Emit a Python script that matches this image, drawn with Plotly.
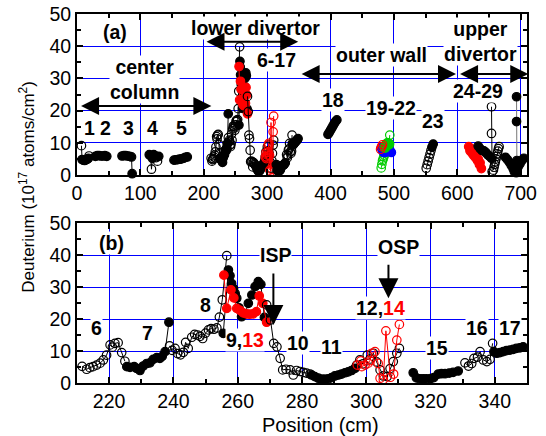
import plotly.graph_objects as go

# ---------------- data (x: position cm, y: 1e17 D atoms/cm^2) ----------------
# center column, segments 1-5
s1_x = [7, 8, 10, 12, 14, 16, 18, 19]
s1_y = [9.1, 4.8, 4.6, 4.5, 4.7, 4.9, 5.2, 5.9]
s1_open = [1, 0, 0, 0, 0, 0, 0, 1]
s2_x = [29, 32, 35, 38, 41, 44, 47]
s2_y = [5.8, 6.0, 6.0, 5.9, 5.9, 6.0, 5.8]
s3_x = [71, 74, 77, 80, 83, 86, 87]
s3_y = [5.9, 6.0, 6.0, 5.9, 5.8, 5.6, 0.4]
s4_x = [114, 116, 117.5, 119, 121, 123, 125, 127, 129]
s4_y = [6.3, 6.0, 1.8, 5.2, 6.3, 6.0, 5.4, 4.3, 5.8]
s4_open = [0, 0, 1, 0, 0, 0, 1, 1, 0]
s5_x = [153, 156, 159, 162, 165, 168, 171, 174]
s5_y = [4.6, 4.7, 4.8, 4.9, 5.0, 5.2, 5.5, 5.6]

# lower divertor, tiles 6-17
t6_x = [211.6, 213, 214, 215, 216.1, 217.2, 218.2, 219.2, 220.3, 221, 221.8, 222.8, 223.9, 224.9]
t6_y = [5.2, 4.3, 4.8, 5.1, 5.6, 6.2, 7.2, 8.7, 11.9, 11.2, 12.4, 12.6, 9.5, 6.8]
t7_x = [225.5, 226.5, 227.8, 228.5, 229.6, 230.6, 231.7, 232.7, 233.7, 234.8, 235.8, 236.5, 237.4, 238.6]
t7_y = [5.1, 4.9, 5.1, 4.6, 3.9, 5.3, 6.1, 6.3, 7.4, 7.9, 7.7, 8.3, 9.8, 19.0]
t8o_x = [238.8, 239.6, 240.5, 241.3, 242.2, 243.1, 243.8, 244.6, 245.7, 246.6, 247.5, 248.3, 249.1,
         250.0, 250.9, 251.7, 252.6, 253.5, 254.3, 255.2, 256.6]
t8o_y = [11.6, 10.2, 10.8, 9.2, 8.8, 9.6, 12.7, 10.8, 14.3, 15.2, 15.0, 14.6, 13.9,
         15.6, 16.6, 17.0, 16.8, 17.2, 20.6, 26.0, 39.8]
t9_x = [255.5, 257.1, 257.6, 258.1, 258.7, 259.2, 259.7, 260.4, 261.2, 262.3, 263.3, 264.4, 265.4,
        266.4, 267.2, 268.3]
t9_y = [15.5, 35.3, 33.5, 31.1, 29.5, 28.0, 26.5, 23.5, 20.7, 21.6, 24.9, 27.5, 30.1,
        31.7, 30.8, 20.5]
t13_x = [255.7, 256.6, 257.9, 258.8, 259.7, 260.7, 261.7, 262.7, 263.7, 264.8, 265.8, 266.7, 267.8, 269.0]
t13_y = [33.7, 23.3, 29.1, 26.6, 23.3, 22.7, 21.9, 21.6, 21.5, 21.6, 22.3, 27.2, 24.9, 19.0]
t10_x = [269.0, 270.2, 271.2, 272.2, 273.2, 274.0, 275.0, 276.3, 277.3, 278.3, 279.4, 280.4, 281.4, 282.5]
t10_y = [24.4, 19.7, 12.4, 11.3, 7.7, 4.1, 4.3, 4.1, 2.5, 3.9, 3.6, 3.3, 3.1, 2.8]
t11_x = [283, 284, 285.1, 286.1, 287.1, 288.2, 289.2, 290.2, 291.3, 292.3, 293.4, 294.4, 295.4, 296.5]
t11_y = [2.5, 2.0, 1.5, 1.2, 1.2, 1.3, 1.7, 2.2, 2.5, 2.8, 3.2, 3.5, 3.9, 4.6]
t12_x = [297, 298, 299, 300.3, 301.2, 302.2, 303.2, 304.3, 305.3, 306.5, 307.4, 308.4, 309.5, 310.3]
t12_y = [5.6, 7.2, 6.0, 8.7, 7.5, 9.3, 6.6, 4.1, 2.2, 2.0, 4.5, 6.7, 9.3, 10.8]
t14_x = [297.2, 298.3, 298.6, 299.6, 300.6, 301.1, 301.7, 302.7, 303.7, 304.3, 305.3, 306.1, 307.5,
         308.5, 309.5, 310.3]
t14_y = [5.6, 6.9, 5.1, 5.6, 6.2, 7.0, 9.3, 9.8, 6.1, 1.5, 1.1, 16.3, 1.8, 2.8, 13.4, 18.3]
t15_x = [314.6, 315.6, 316.7, 317.7, 318.7, 320.0, 321.0, 322.4, 323.4, 324.5, 325.8, 327.0, 328.6]
t15_y = [3.2, 1.6, 1.3, 1.3, 1.3, 1.4, 1.7, 2.8, 2.9, 2.9, 3.1, 3.3, 3.75]
t16_x = [330.7, 331.8, 332.8, 333.5, 334.6, 335.4, 336.4, 337.5, 338.5, 339.3]
t16_y = [6.3, 5.3, 6.1, 7.7, 8.1, 9.8, 7.2, 6.7, 7.4, 12.4]
t17_x = [339.7, 340.6, 341.6, 342.6, 343.6, 344.7, 345.7, 346.7, 347.8, 348.8]
t17_y = [9.8, 9.3, 9.5, 9.8, 10.1, 10.3, 10.5, 10.8, 11.0, 11.3]

# outer wall
w18_x = [396, 398, 400, 402, 404, 406, 408, 410]
w18_y = [12.6, 13.2, 13.9, 14.6, 15.3, 16.0, 16.6, 17.1]
w_green_open_x = [480, 481, 482, 483, 484, 485, 486, 487, 488, 489, 490, 492, 493.5]
w_green_open_y = [2.2, 3.3, 4.4, 5.0, 5.6, 6.2, 6.9, 7.5, 8.1, 8.6, 9.0, 9.5, 12.4]
w_green_x = [486, 488, 490, 492]
w_green_y = [8.6, 9.3, 9.8, 9.6]
w_blue_x = [480, 482, 484, 486, 488, 490, 492, 494, 496]
w_blue_y = [8.5, 7.5, 7.0, 7.0, 7.2, 7.5, 7.8, 7.5, 7.0]
w_red_open_x = [479, 480.5, 482]
w_red_open_y = [8.0, 8.8, 9.4]
w23_x = [551, 552.5, 554, 555.5, 557, 558.5, 560, 562]
w23_y = [2.1, 3.2, 4.3, 5.4, 6.5, 7.6, 8.6, 9.6]
w23_open = [1, 1, 1, 1, 1, 1, 0, 0]

# upper divertor, tiles 24-29
u_red_x = [618, 620, 621, 623, 624, 626, 627, 629, 630, 632, 633, 635, 636, 638]
u_red_y = [8.8, 7.5, 8.3, 6.8, 7.6, 6.0, 6.9, 5.3, 6.2, 4.4, 5.0, 3.2, 3.8, 2.0]
u_b1_x = [633, 636, 639, 642, 645, 648, 651, 654]
u_b1_y = [9.0, 8.2, 7.6, 7.5, 7.0, 6.3, 5.8, 5.2]
u_tall_x = [654, 654, 655]
u_tall_y = [21.2, 12.9, 1.0]
u_open_x = [657, 658, 659, 660, 661, 662, 663, 664, 665, 666]
u_open_y = [1.5, 2.4, 3.3, 4.1, 5.0, 5.8, 6.6, 7.4, 8.2, 8.8]
u_b2_x = [676, 679, 682, 685, 688, 690, 693, 696, 699, 702, 705]
u_b2_y = [5.5, 4.8, 4.0, 3.0, 2.0, 1.0, 0.7, 2.5, 3.5, 4.5, 5.2]
u_tallb_x = [693.5, 693.5, 694]
u_tallb_y = [24.3, 16.6, 4.5]

# ---------------- figure ----------------
FONT = "Arial, Liberation Sans, sans-serif"
BLACK, RED, BLUE, GREEN = "#000000", "#ff0000", "#0000ff", "#00cc00"
fig = go.Figure()


def add(x, y, color="#000000", open_flags=None, allopen=False, panel_b=False, size=8.5, lcolor=None):
    if open_flags is None:
        open_flags = [1 if allopen else 0] * len(x)
    symbols = ["circle-open" if o else "circle" for o in open_flags]
    axes = [("x", "y")]
    if panel_b:
        axes.append(("x2", "y2"))
    for xa, ya in axes:
        fig.add_trace(go.Scatter(
            x=x, y=y, mode="lines+markers", xaxis=xa, yaxis=ya,
            line=dict(color=lcolor or color, width=1),
            marker=dict(symbol=symbols, size=size, color=color, line=dict(color=color, width=1.2)),
            cliponaxis=False, showlegend=False, hoverinfo="skip"))


add(s1_x, s1_y, open_flags=s1_open)
add(s2_x, s2_y)
add(s3_x, s3_y)
add(s4_x, s4_y, open_flags=s4_open)
add(s5_x, s5_y)

add(t6_x, t6_y, allopen=True, panel_b=True)
add(t7_x, t7_y, panel_b=True)
add(t8o_x, t8o_y, allopen=True, panel_b=True)
add(t9_x, t9_y, panel_b=True)
add(t13_x, t13_y, color=RED, panel_b=True)
add(t10_x, t10_y, allopen=True, panel_b=True)
add(t11_x, t11_y, panel_b=True)
add(t12_x, t12_y, allopen=True, panel_b=True)
add(t14_x, t14_y, color=RED, allopen=True, panel_b=True)
add(t15_x, t15_y, panel_b=True)
add(t16_x, t16_y, allopen=True, panel_b=True)
add(t17_x, t17_y, panel_b=True)

add(w18_x, w18_y)
add(w_green_open_x, w_green_open_y, color=GREEN, allopen=True)
add(w_blue_x, w_blue_y, color=BLUE)
add(w_green_x, w_green_y, color=GREEN, size=10)
add(w_red_open_x, w_red_open_y, color=RED, allopen=True)
add(w23_x, w23_y, open_flags=w23_open)

add(u_red_x, u_red_y, color=RED)
add(u_b1_x, u_b1_y)
add(u_tall_x, u_tall_y, allopen=True)
add(u_open_x, u_open_y, allopen=True)
add(u_b2_x, u_b2_y)
add(u_tallb_x, u_tallb_y, lcolor="#777777")

# ---------------- axes ----------------
axis_common = dict(
    showline=True, linecolor="black", linewidth=2, mirror="ticks",
    ticks="inside", ticklen=6, tickwidth=1.5, tickcolor="black",
    showgrid=True, gridcolor=BLUE, gridwidth=1, zeroline=False, automargin=False,
    ticklabeloverflow="allow",
    tickfont=dict(family=FONT, size=19.5, color="black"),
)
fig.update_layout(
    width=546, height=436,
    margin=dict(l=77, r=19, t=14, b=53, autoexpand=False),
    plot_bgcolor="white", paper_bgcolor="white",
    xaxis=dict(axis_common, range=[0, 710], tick0=0, dtick=100, anchor="y",
               minor=dict(dtick=50, ticks="inside", ticklen=4, tickcolor="black", showgrid=False)),
    yaxis=dict(axis_common, range=[0, 50], tick0=0, dtick=10, domain=[0.5637, 1], anchor="x",
               minor=dict(dtick=5, ticks="inside", ticklen=4, tickcolor="black", showgrid=False)),
    xaxis2=dict(axis_common, range=[210, 350], tick0=200, dtick=20, anchor="y2",
                minor=dict(dtick=10, ticks="inside", ticklen=4, tickcolor="black", showgrid=False)),
    yaxis2=dict(axis_common, range=[0, 50], tick0=0, dtick=10, domain=[0, 0.4336], anchor="x2",
                minor=dict(dtick=5, ticks="inside", ticklen=4, tickcolor="black", showgrid=False)),
)

# ---------------- annotations ----------------
ann = []
LS = 19.5


def label(text, x, y, xr="x", yr="y", size=LS, bg=True):
    ann.append(dict(text=f"<b>{text}</b>", x=x, y=y, xref=xr, yref=yr, showarrow=False,
                    xanchor="center", yanchor="middle",
                    font=dict(family=FONT, size=size, color="black"),
                    bgcolor="white" if bg else None, borderpad=0))


label("(a)", 60, 44.5)
label("lower divertor", 281, 45.8)
label("6-17", 314, 35.7)
label("center<br>column", 107, 29.8)
label("outer wall", 481, 37.3)
label("upper<br>divertor", 637, 41.6)
for t, xx in zip(["1", "2", "3", "4", "5"], [20.5, 45.7, 80.6, 119.4, 165]):
    label(t, xx, 14.6)
label("18", 404.5, 23.3)
label("19-22", 496, 20.7)
label("23", 562, 16.9)
label("24-29", 633, 26.2)

label("(b)", 220.8, 43.7, "x2", "y2")
label("ISP", 271.6, 40, "x2", "y2")
label("OSP", 310, 42.6, "x2", "y2")
label("6", 216.1, 17.1, "x2", "y2")
label("7", 232, 15.7, "x2", "y2")
label("8", 250.1, 24.4, "x2", "y2")
label("9,<span style='color:red'>13</span>", 262.3, 13.4, "x2", "y2")
label("10", 278.9, 12.4, "x2", "y2")
label("11", 289.2, 11.3, "x2", "y2")
label("12,<span style='color:red'>14</span>", 304.3, 23.3, "x2", "y2")
label("15", 321.9, 10.8, "x2", "y2")
label("16", 334.4, 17.1, "x2", "y2")
label("17", 344.7, 17.1, "x2", "y2")


def arrow(x0, y0, x1, y1, xr="x", yr="y", both=True, size=1.8):
    ann.append(dict(x=x1, y=y1, ax=x0, ay=y0, xref=xr, yref=yr, axref=xr, ayref=yr,
                    text="", showarrow=True, arrowhead=2, startarrowhead=2,
                    arrowside="end+start" if both else "end",
                    arrowsize=size, startarrowsize=size, arrowwidth=2, arrowcolor="black"))


arrow(4, 21.4, 212, 21.4)
arrow(202, 41.4, 349, 41.4)
arrow(352, 31.4, 598, 31.4)
arrow(602, 31.4, 712, 31.4)
arrow(271.1, 34.7, 271.1, 18.1, "x2", "y2", both=False, size=2)
arrow(306.9, 37.4, 306.9, 26.5, "x2", "y2", both=False, size=2)

ann.append(dict(text="Deuterium (10<sup>17</sup> atoms/cm<sup>2</sup>)", x=-0.111, y=0.532,
                xref="paper", yref="paper", xanchor="center", yanchor="middle",
                showarrow=False, textangle=-90,
                font=dict(family=FONT, size=17, color="black")))
ann.append(dict(text="Position (cm)", x=0.54, y=-0.115, xref="paper", yref="paper",
                xanchor="center", yanchor="middle",
                showarrow=False, font=dict(family=FONT, size=20, color="black")))

fig.update_layout(annotations=ann)
fig.write_html("out.html", post_script="document.body.style.margin='0px';",
               config={"displayModeBar": False})
